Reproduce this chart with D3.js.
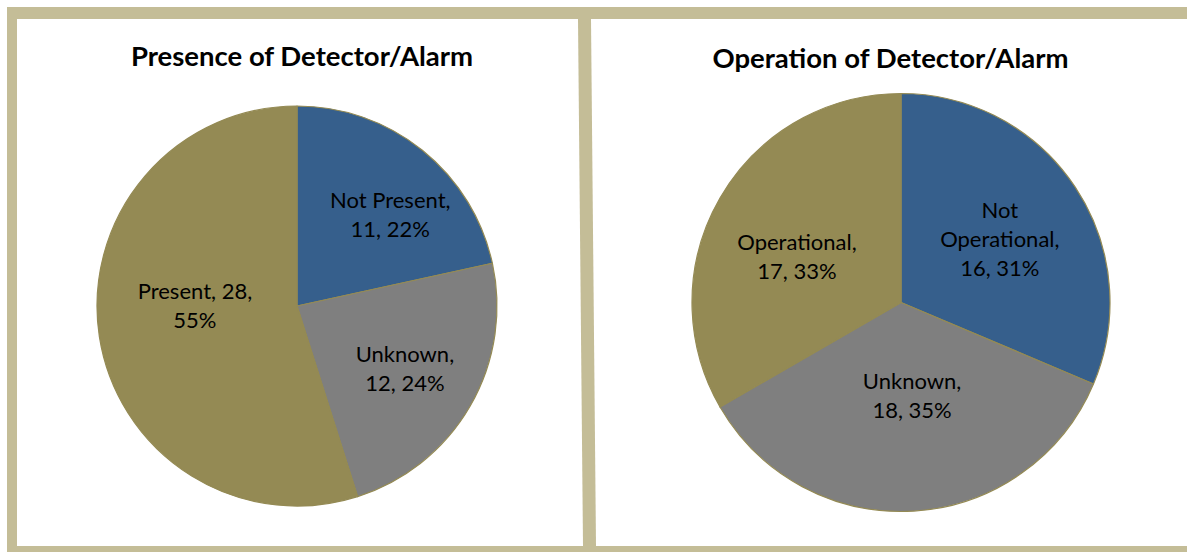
<!DOCTYPE html>
<html>
<head>
<meta charset="utf-8">
<script src="https://cdn.jsdelivr.net/npm/d3@7"></script>
<style>
  html, body { margin: 0; padding: 0; background: #ffffff; }
  svg { display: block; }
</style>
</head>
<body>
<svg id="chart" width="1187" height="552"></svg>
<script>
// ---- data ----
const titles = ["Presence of Detector/Alarm", "Operation of Detector/Alarm"];
const presenceCategories = ["Not Present", "Unknown", "Present"];
const presenceValues = [11, 12, 28];
const presencePercents = [22, 24, 55];
const operationCategories = ["Not Operational", "Unknown", "Operational"];
const operationValues = [16, 18, 17];
const operationPercents = [31, 35, 33];

// label line breaks as shown in the reference
const presenceLabelLines = [["Not Present,", "11, 22%"], ["Unknown,", "12, 24%"], ["Present, 28,", "55%"]];
const operationLabelLines = [["Not", "Operational,", "16, 31%"], ["Unknown,", "18, 35%"], ["Operational,", "17, 33%"]];

// ---- layout / style ----
const W = 1187, H = 552;
const sliceColors = d3.scaleOrdinal().domain([0, 1, 2]).range(["#365F8C", "#7F7F7F", "#948A54"]);
const frameColor = "#C4BD97";
const svg = d3.select("#chart");

// frame
const frame = svg.append("g");
frame.append("rect").attr("x", 7).attr("y", 7).attr("width", W - 7).attr("height", 12).attr("fill", frameColor);
frame.append("rect").attr("x", 7).attr("y", 7).attr("width", 10).attr("height", H - 7).attr("fill", frameColor);
frame.append("rect").attr("x", 7).attr("y", 546).attr("width", W - 7).attr("height", 6).attr("fill", frameColor);
frame.append("path").attr("d", "M578,19 L591,19 L596,546 L583,546 Z").attr("fill", frameColor);

const panels = [
  { title: titles[0], cats: presenceCategories, vals: presenceValues, lines: presenceLabelLines,
    cx: 297, cy: 306, r: 200, titleX: 302, titleY: 66, k: 0.6,
    nudge: [[18, 2.5], [4, 3], [16.5, -18]] },
  { title: titles[1], cats: operationCategories, vals: operationValues, lines: operationLabelLines,
    cx: 901, cy: 302.5, r: 209, titleX: 890.5, titleY: 68, k: 0.55,
    nudge: [[3, 1], [4, -21], [-4.5, 12]] }
];

const pie = d3.pie().sort(null).value(d => d);

panels.forEach(p => {
  const g = svg.append("g").attr("transform", `translate(${p.cx},${p.cy})`);
  const arc = d3.arc().innerRadius(0).outerRadius(p.r);
  const labelArc = d3.arc().innerRadius(p.r * p.k).outerRadius(p.r * p.k);
  const arcs = pie(p.vals);

  g.selectAll("path.slice").data(arcs).enter().append("path")
    .attr("class", "slice")
    .attr("d", arc)
    .attr("fill", (d, i) => sliceColors(i))
    .attr("stroke", "#948A54")
    .attr("stroke-width", 1.2)
    .attr("stroke-linejoin", "round");

  const lineH = 29;
  arcs.forEach((d, i) => {
    const c = labelArc.centroid(d);
    const x = c[0] + p.nudge[i][0];
    const y = c[1] + p.nudge[i][1];
    const lines = p.lines[i];
    const t = g.append("text")
      .attr("text-anchor", "middle")
      .attr("font-family", "Lato, 'Open Sans', sans-serif")
      .attr("font-size", 22)
      .attr("fill", "#000");
    const startY = y - (lines.length - 1) * lineH / 2 + 7;
    lines.forEach((ln, j) => {
      t.append("tspan").attr("x", x).attr("y", startY + j * lineH).text(ln);
    });
  });

  svg.append("text")
    .attr("x", p.titleX).attr("y", p.titleY)
    .attr("text-anchor", "middle")
    .attr("font-family", "Lato, 'Open Sans', sans-serif")
    .attr("font-weight", "bold")
    .attr("font-size", 27.5)
    .attr("fill", "#000")
    .text(p.title);
});
</script>
</body>
</html>
